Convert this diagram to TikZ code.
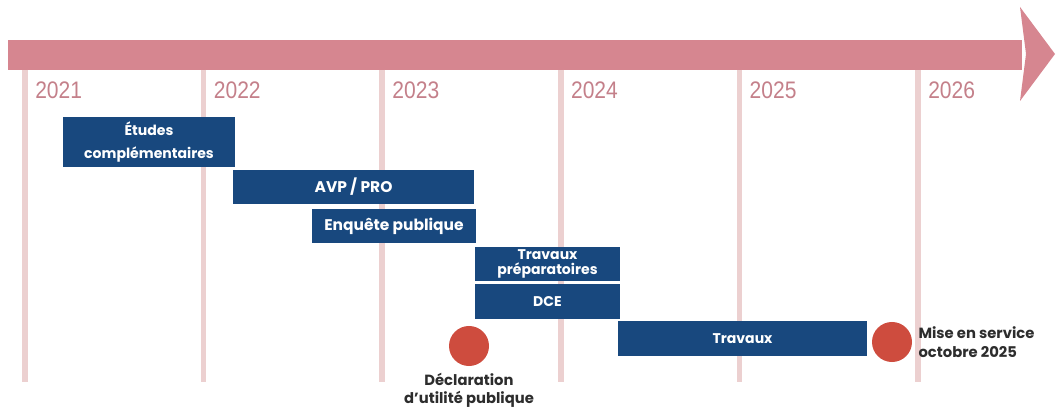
\documentclass[tikz,border=0pt]{standalone}
\usepackage{fontspec}
\setmainfont{Poppins}
\newfontfamily\yearfont[FakeStretch=0.88]{Liberation Sans}
\usetikzlibrary{positioning}
\definecolor{bande}{RGB}{214,134,144}
\definecolor{trait}{RGB}{236,208,208}
\definecolor{annee}{RGB}{196,128,138}
\definecolor{bleu}{RGB}{24,72,126}
\definecolor{rouge}{RGB}{206,76,62}
\definecolor{noir}{RGB}{45,45,45}
\tikzset{
  phase/.style={fill=bleu,text=white,inner sep=0pt,align=center,
    minimum height=0.85cm,font=\fontsize{10}{11}\selectfont\bfseries},
  jalon/.style={circle,fill=rouge,minimum size=1cm,inner sep=0pt},
  an/.style={anchor=west,text=annee,inner sep=0pt,font=\yearfont\fontsize{17}{17}\selectfont},
  legende/.style={text=noir,inner sep=0pt,font=\fontsize{10.5}{14}\selectfont\bfseries}
}
\begin{document}
\begin{tikzpicture}[x=0.025cm,y=-0.025cm]
    \useasboundingbox (0,0) rectangle (1056,411);
    % fleche du temps
    \fill[bande] (8,40) rectangle (1022,70);
    \fill[bande] (1020,7) -- (1055,54) -- (1020,101) -- (1026,54) -- cycle;
    % annees
    \foreach \a [count=\i from 0] in {2021,2022,2023,2024,2025,2026}{
        \coordinate (h\i) at (25+178.6*\i,70);
        \coordinate (b\i) at (25+178.6*\i,382);
        \draw[trait,line width=4pt] (h\i) -- (b\i);
        \node[an] (a\i) at (35+178.6*\i,90) {\a};
    }
    % phases
    \node[phase,minimum width=4.3cm,minimum height=1.25cm,font=\fontsize{10}{16}\selectfont\bfseries]
        (etudes) at (149,142) {Études\\complémentaires};
    \node[phase,minimum width=6.025cm,font=\fontsize{11}{11}\selectfont\bfseries] (avp) at (353.5,187) {AVP / PRO};
    \node[phase,minimum width=4.1cm,font=\fontsize{11}{11}\selectfont\bfseries] (enquete) at (394,226) {Enquête publique};
    \node[phase,minimum width=3.625cm] (prepa) at (547.5,264) {Travaux\\préparatoires};
    \node[phase,minimum width=3.625cm,minimum height=0.875cm] (dce) at (547.5,301.5) {DCE};
    \node[phase,minimum width=6.225cm,minimum height=0.875cm] (travaux) at (742.5,338.5) {Travaux};
    % jalons
    \node[jalon] (dup) at (469,346) {};
    \node[jalon] (mes) at (892,342) {};
    \node[legende,align=center,below=0.16cm of dup,font=\fontsize{10.5}{13}\selectfont\bfseries] (dupl) {Déclaration\\d’utilité publique};
    \node[legende,align=left,right=0.15cm of mes] (mesl) {Mise en service\\octobre 2025};
\end{tikzpicture}
\end{document}
